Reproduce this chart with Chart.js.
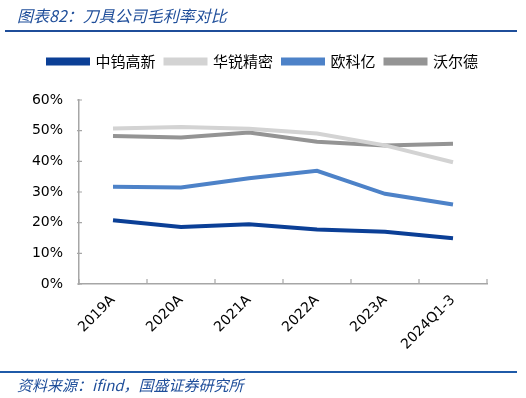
<!DOCTYPE html>
<html>
<head>
<meta charset="utf-8">
<script src="https://cdn.jsdelivr.net/npm/chart.js@4/dist/chart.umd.min.js"></script>
<style>
    body { margin: 0; background: #fff; }
    #wrap { position: relative; width: 526px; height: 398px; overflow: hidden; }
    #chart { position: absolute; left: 0; top: 0; }
    .title { position: absolute; left: 17px; top: 3px; font: italic 16px "Noto Sans CJK SC", sans-serif; color: #1f4e9a; white-space: nowrap; }
    .rule-top { position: absolute; left: 5px; top: 30px; width: 512px; height: 2px; background: #1f4e9a; }
    .rule-bottom { position: absolute; left: 0; top: 371px; width: 517px; height: 2px; background: #1f5aa8; }
    .source { position: absolute; left: 17px; top: 374px; font: italic 15px "Noto Sans CJK SC", sans-serif; color: #1f4e9a; white-space: nowrap; }
</style>
</head>
<body>
<div id="wrap">
    <canvas id="chart" width="526" height="398"></canvas>
    <div class="title">图表82：刀具公司毛利率对比</div>
    <div class="rule-top"></div>
    <div class="rule-bottom"></div>
    <div class="source">资料来源：ifind，国盛证券研究所</div>
</div>
<script>
const categories = ["2019A", "2020A", "2021A", "2022A", "2023A", "2024Q1-3"];
const seriesNames = ["中钨高新", "华锐精密", "欧科亿", "沃尔德"];
const zhongwu = [20.8, 18.6, 19.5, 17.8, 17.0, 14.9];
const huarui = [50.7, 51.2, 50.6, 49.1, 45.2, 39.7];
const oukeyi = [31.7, 31.5, 34.5, 36.9, 29.4, 25.9];
const woerde = [48.3, 47.8, 49.4, 46.4, 45.2, 45.7];
const yTicks = [0, 10, 20, 30, 40, 50, 60];

const colors = ["#0b3f96", "#d3d3d3", "#4d82c8", "#949494"];
const values = [zhongwu, huarui, oukeyi, woerde];

// push legend down a bit so the plot starts lower
const legendGap = {
    id: "legendGap",
    beforeInit(chart) {
        const fit = chart.legend.fit;
        chart.legend.fit = function () {
            fit.bind(chart.legend)();
            this.height += 21;
        };
    }
};

// small tick marks pointing into the plot
const innerTicks = {
    id: "innerTicks",
    afterDraw(chart) {
        const ctx = chart.ctx;
        const x = chart.scales.x, y = chart.scales.y;
        ctx.save();
        ctx.strokeStyle = "#a6a6a6";
        ctx.lineWidth = 1.2;
        ctx.beginPath();
        for (let i = 0; i <= categories.length; i++) {
            const px = x.left + (x.right - x.left) * i / categories.length;
            ctx.moveTo(px, y.bottom);
            ctx.lineTo(px, y.bottom - 5);
        }
        yTicks.forEach(v => {
            const py = y.getPixelForValue(v);
            ctx.moveTo(x.left - 2, py);
            ctx.lineTo(x.left + 3, py);
        });
        ctx.stroke();
        ctx.restore();
    }
};

new Chart(document.getElementById("chart"), {
    type: "line",
    data: {
        labels: categories,
        datasets: seriesNames.map((name, i) => ({
            label: name,
            data: values[i],
            borderColor: colors[i],
            backgroundColor: colors[i],
            borderWidth: 4,
            pointRadius: 0,
            tension: 0
        }))
    },
    options: {
        responsive: false,
        animation: false,
        layout: { padding: { top: 44, left: 0, right: 0, bottom: 0 } },
        plugins: {
            legend: {
                labels: {
                    font: { family: "Noto Sans CJK SC", size: 15 },
                    color: "#000",
                    boxWidth: 40,
                    boxHeight: 4,
                    padding: 10
                }
            },
            tooltip: { enabled: false }
        },
        scales: {
            x: {
                offset: true,
                grid: { display: false, drawTicks: false },
                border: { color: "#a6a6a6", width: 1.5 },
                ticks: {
                    font: { family: "DejaVu Sans", size: 14 },
                    color: "#000",
                    minRotation: 45,
                    maxRotation: 45,
                    padding: 8
                },
                afterFit: s => { s.height = 114; }
            },
            y: {
                min: 0,
                max: 60,
                grid: { display: false, drawTicks: false },
                border: { color: "#a6a6a6", width: 1.5 },
                ticks: {
                    stepSize: 10,
                    font: { family: "DejaVu Sans", size: 14 },
                    color: "#000",
                    padding: 16,
                    callback: v => v + "%"
                },
                afterFit: s => { s.width = 79; }
            },
            right: {
                position: "right",
                display: true,
                grid: { display: false, drawTicks: false },
                border: { display: false },
                ticks: { display: false },
                afterFit: s => { s.width = 39; }
            }
        }
    },
    plugins: [legendGap, innerTicks]
});
</script>
</body>
</html>
